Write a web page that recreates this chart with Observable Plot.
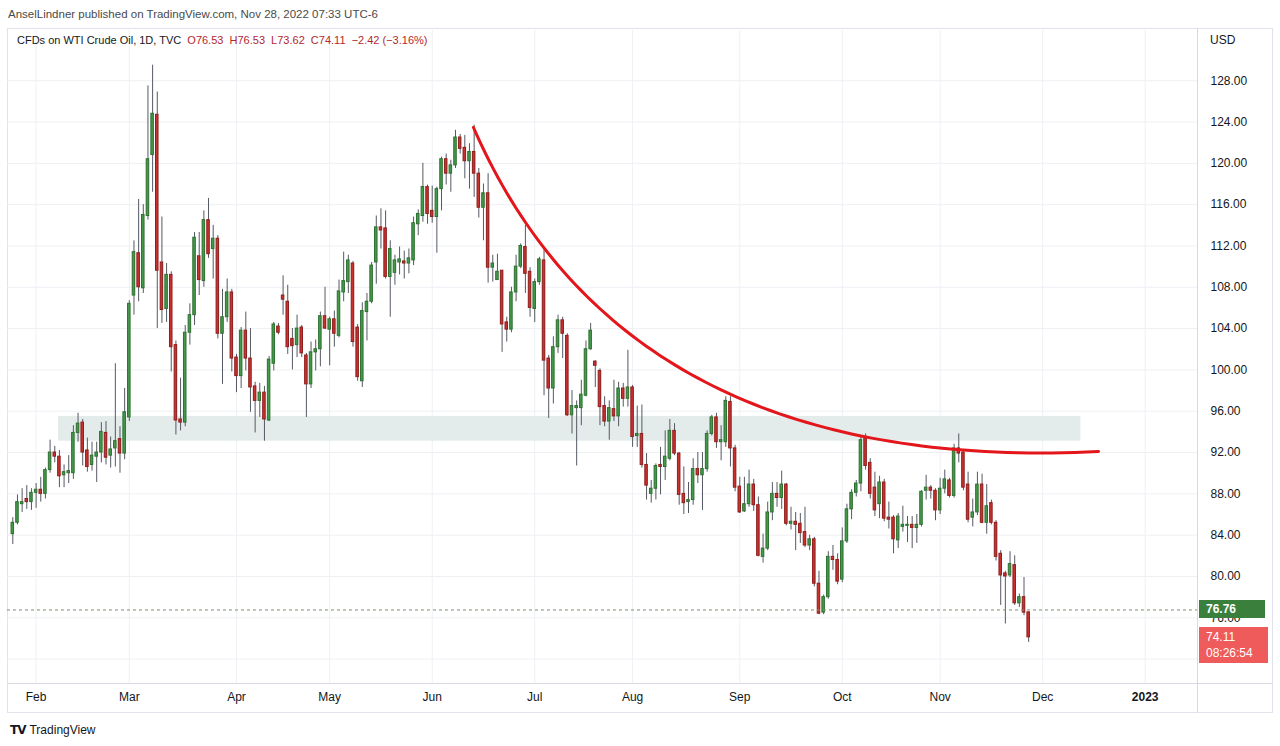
<!DOCTYPE html>
<html><head><meta charset="utf-8">
<script src="https://cdn.jsdelivr.net/npm/d3@7"></script>
<script src="https://cdn.jsdelivr.net/npm/@observablehq/plot@0.6"></script>
<style>
body{margin:0;background:#fff;width:1280px;height:746px;overflow:hidden;position:relative;font-family:"Liberation Sans",Arial,sans-serif;}
#pub{position:absolute;left:8px;top:8px;font-size:11.5px;color:#4a4a4a;white-space:nowrap}
#frame{position:absolute;left:7px;top:28px;width:1266px;height:685px;border:1px solid #e0e3eb;box-sizing:border-box}
#xline{position:absolute;left:7px;top:683px;width:1266px;height:1px;background:#d6d9e0}
#yline{position:absolute;left:1197px;top:28px;width:1px;height:685px;background:#d6d9e0}
#legend{position:absolute;left:17px;top:34px;font-size:11px;color:#131722;white-space:nowrap}
#legend .v{color:#b2282e}
#chart{position:absolute;left:7px;top:28px}
#usd{position:absolute;left:1210px;top:33px;font-size:12px;color:#131722}
#logo{position:absolute;left:10px;top:723px;font-size:12px;color:#131722;white-space:nowrap}
#logo b{font-family:"DejaVu Sans";font-weight:900;font-size:12px;letter-spacing:-1px;margin-right:4px}
.lbl{position:absolute;color:#fff;font-size:12px;box-sizing:border-box;padding-left:7px}
</style></head>
<body>
<div id="pub">AnselLindner published on TradingView.com, Nov 28, 2022 07:33 UTC-6</div>
<div id="frame"></div>
<div id="chart"></div>
<div id="xline"></div>
<div id="yline"></div>
<div id="legend">CFDs on WTI Crude Oil, 1D, TVC&nbsp;&nbsp;<span class="v">O76.53&nbsp;&nbsp;H76.53&nbsp;&nbsp;L73.62&nbsp;&nbsp;C74.11&nbsp;&nbsp;−2.42 (−3.16%)</span></div>
<div id="usd">USD</div>
<div id="logo"><b>TV</b>TradingView</div>
<script>
// ---- data ----
const open = [84.1,85.2,87.0,87.5,87.2,88.1,88.4,88.0,90.3,92.0,91.6,89.8,90.0,90.0,93.9,94.9,92.2,90.8,91.6,92.0,93.9,91.7,92.4,93.3,91.9,95.4,
107.2,111.3,107.9,114.9,120.8,124.7,110.4,105.9,109.2,102.4,95.2,94.9,103.6,105.3,111.0,108.6,114.5,111.7,112.7,103.5,105.1,107.5,
101.2,99.4,103.8,101.1,98.4,97.0,97.8,95.1,100.6,104.2,107.2,106.6,103.0,102.4,104.1,101.4,98.6,101.7,102.0,105.2,
103.9,104.9,103.3,107.5,108.5,110.3,104.1,98.9,105.6,106.6,110.4,113.8,113.7,109.0,109.4,110.4,110.5,110.3,110.6,114.1,114.9,117.7,
115.4,114.8,117.5,120.4,119.0,119.8,122.5,121.5,120.2,121.1,119.0,115.7,117.1,109.9,108.7,109.6,104.6,103.9,107.5,110.0,111.9,109.5,
105.9,108.5,110.6,101.1,98.2,102.2,104.8,103.3,95.6,96.3,96.3,97.5,102.0,100.8,99.9,96.5,95.0,96.2,95.5,98.2,97.2,
98.3,93.6,93.8,90.8,88.0,88.5,90.8,90.6,91.4,94.1,91.9,88.0,87.2,87.4,90.4,89.8,90.4,93.8,95.4,93.0,93.0,96.9,92.4,
88.7,86.3,87.0,88.9,86.9,81.9,82.7,86.2,88.0,87.6,88.9,85.1,85.3,85.1,84.3,83.0,83.6,79.3,76.5,78.0,81.9,81.6,
79.7,83.4,86.5,88.1,89.0,93.5,91.0,88.6,87.0,89.1,85.7,85.7,83.5,84.8,84.9,85.0,84.7,85.0,88.3,88.6,88.3,
86.4,88.5,89.3,87.8,92.4,92.0,88.9,85.7,86.2,88.9,85.2,87.1,85.2,82.2,80.3,80.1,81.1,77.4,78.0,76.53];
const high = [85.7,87.9,88.5,88.8,88.5,89.0,89.6,90.5,93.2,92.6,92.2,90.8,91.7,94.6,95.8,95.2,93.4,93.0,93.0,94.9,95.0,93.5,100.6,94.5,98.2,106.7,
112.5,116.5,116.0,127.5,129.5,126.9,114.8,110.3,109.5,102.8,99.2,104.3,106.4,113.3,113.3,115.4,116.6,114.0,113.0,107.8,108.8,107.8,
101.5,104.1,105.6,104.0,98.8,98.7,98.4,101.3,104.6,104.5,109.1,108.2,104.0,105.3,104.3,101.6,102.7,102.9,105.6,108.0,
105.1,105.7,108.7,111.4,111.1,110.5,104.4,106.5,107.4,110.4,114.9,115.6,115.4,112.5,111.1,111.9,111.5,111.7,114.8,115.5,120.0,117.9,
117.8,117.7,120.6,120.9,120.3,123.2,122.8,122.7,121.9,123.7,119.5,118.0,119.0,111.1,111.2,109.6,105.1,108.0,111.1,112.2,114.0,109.9,
108.8,110.9,111.6,101.4,103.2,105.3,105.1,103.5,98.0,97.0,99.0,102.8,104.5,100.9,100.1,97.4,97.0,99.0,98.8,98.7,101.9,
98.5,96.5,96.6,91.9,89.3,90.9,92.5,94.1,95.2,94.8,92.0,90.6,89.1,91.4,92.0,92.0,94.1,95.6,95.8,94.6,97.4,97.4,92.7,
89.6,89.6,90.3,89.4,87.7,84.1,87.2,89.1,89.1,90.2,89.0,86.7,86.2,86.1,86.7,84.0,83.8,80.5,78.2,82.4,83.0,82.2,
84.7,87.0,88.4,89.3,93.5,93.8,91.4,90.1,89.7,89.4,87.2,85.9,86.1,86.8,85.8,85.8,86.0,88.3,89.8,88.8,88.5,
89.5,90.3,89.5,92.8,93.8,92.2,90.1,87.5,90.1,89.9,88.9,87.4,85.4,82.5,80.5,82.4,82.0,78.3,79.9,76.53];
const low = [83.1,85.0,86.2,86.5,86.4,86.6,87.2,87.5,90.0,91.0,88.6,88.6,89.0,89.4,93.0,90.7,90.1,90.2,89.1,91.0,90.8,90.5,90.6,90.0,91.3,95.0,
105.3,106.6,107.4,114.5,117.2,104.0,104.5,104.6,99.8,93.7,94.1,94.5,102.4,104.3,107.2,108.0,110.8,108.8,103.0,98.6,104.6,99.8,
97.8,98.2,99.9,95.9,93.9,95.4,93.1,95.0,99.9,103.4,105.3,101.5,100.0,101.2,101.2,95.4,98.2,99.9,100.3,103.9,
100.4,102.2,103.1,106.6,107.4,102.2,98.9,98.3,102.8,106.4,108.3,111.7,108.8,105.1,108.2,109.2,108.8,109.3,110.1,113.0,114.3,114.1,
114.2,111.3,115.4,117.9,117.2,119.5,120.9,118.5,117.5,116.7,114.7,112.5,108.4,108.5,108.7,101.7,102.7,103.6,106.6,109.8,107.4,105.1,
104.6,108.2,97.5,95.3,96.7,101.6,101.1,95.5,93.8,90.7,94.6,97.4,101.9,98.3,94.6,94.5,93.2,95.0,94.5,96.4,96.4,
92.5,92.5,90.5,87.4,87.1,87.4,87.9,89.3,91.2,91.7,86.9,86.0,86.1,86.9,89.0,86.4,90.1,93.6,92.4,91.2,92.5,90.6,88.2,
86.1,86.2,86.7,86.3,81.9,81.3,82.5,85.4,86.7,86.5,84.9,84.5,82.5,83.2,82.8,82.5,79.0,76.3,76.3,77.8,80.6,79.2,
79.4,83.2,85.5,87.7,88.2,90.3,87.5,85.8,85.6,85.3,84.6,82.2,82.7,84.3,83.3,82.7,83.2,84.8,87.4,87.5,85.4,
86.0,88.0,87.6,87.6,91.0,88.3,85.2,84.8,85.9,85.1,84.1,85.0,81.5,77.2,75.4,79.9,77.2,77.0,76.2,73.62];
const close = [85.2,87.2,87.2,87.2,88.1,88.4,88.0,90.3,92.0,91.6,89.7,90.1,90.2,93.9,94.8,92.0,90.6,91.7,92.0,94.0,91.5,92.3,93.1,91.9,95.9,106.4,
111.4,108.0,115.0,120.4,124.8,109.6,105.8,109.2,102.2,95.1,94.9,103.6,105.3,112.8,108.7,114.5,111.2,112.7,103.5,105.1,107.5,101.1,
99.4,103.8,101.1,98.3,97.0,97.8,95.2,101.0,104.4,103.6,106.8,102.2,102.3,104.0,101.6,98.6,101.7,102.0,105.2,104.0,
104.9,103.5,107.6,108.6,110.6,102.7,99.3,105.7,106.6,110.1,113.8,113.5,109.0,111.7,110.6,110.7,110.3,110.8,114.2,115.1,117.7,115.1,
114.8,117.5,120.4,119.0,119.8,122.5,121.4,120.2,121.1,119.0,115.7,117.1,109.9,110.3,109.5,104.4,103.9,107.5,110.0,112.0,109.3,106.0,
108.5,110.7,100.9,98.2,102.2,104.8,103.5,95.6,96.5,96.5,97.6,102.0,103.8,100.4,96.4,95.0,96.3,95.5,98.2,97.2,98.3,
93.5,93.8,90.8,88.8,88.5,90.7,90.6,91.6,94.1,91.9,87.9,87.1,87.4,90.4,89.8,90.4,93.8,95.4,93.0,93.2,97.0,92.4,88.6,
86.2,87.0,88.9,86.9,82.0,82.7,86.2,88.0,87.6,88.9,85.1,85.3,85.0,84.2,83.0,83.6,79.3,76.4,78.0,81.9,81.6,79.5,
83.4,86.5,88.1,89.0,93.2,90.7,88.0,86.4,89.1,85.6,85.5,83.6,85.8,85.0,85.0,84.7,85.0,88.2,88.6,88.3,86.4,
88.5,89.4,87.8,92.4,91.9,88.6,85.5,86.2,88.9,85.2,86.8,85.2,81.9,80.1,80.0,81.2,77.4,78.0,76.5,74.11];
const startDate = "2022-01-25";          // first candle
const closedDays = ["2022-04-15"];       // no bar on Good Friday
const monthKeys = ["2022-02","2022-03","2022-04","2022-05","2022-06","2022-07","2022-08","2022-09","2022-10","2022-11","2022-12","2023-01"];
const monthLabels = ["Feb","Mar","Apr","May","Jun","Jul","Aug","Sep","Oct","Nov","Dec","2023"];
const priceTicks = [72,76,80,84,88,92,96,100,104,108,112,116,120,124,128];
// support zone (bar index range, price range)
const zoneBars = [9.8, 229.2];
const zonePrices = [93.1, 95.5];
// red curve drawing tool: start, control, end anchors (bar index, price)
const arcBars  = [98.86, 131.27, 232.98];
const arcPrice = [123.47, 89.87, 92.10];
const refLevel = 76.76;
const lastPrice = 74.11;
const countdown = "08:26:54";

// ---- trading-day calendar ----
const days = [];
{ let d = new Date(startDate + "T00:00:00Z");
  while (days.length < 270) {
    const iso = d.toISOString().slice(0,10), wd = d.getUTCDay();
    if (wd !== 0 && wd !== 6 && !closedDays.includes(iso)) days.push(iso);
    d = new Date(d.getTime() + 86400000);
  } }
const tickBars = monthKeys.map(k => days.findIndex(s => s.startsWith(k)));

const candles = close.map((c, i) => ({i, date: days[i], o: open[i], h: high[i], l: low[i], c, up: c >= open[i]}));
// quadratic curve through the three anchors of the drawing tool
const arc = d3.range(0, 1.0001, 1/80).map(t => ({
  b: (1-t)*(1-t)*arcBars[0] + 2*t*(1-t)*arcBars[1] + t*t*arcBars[2],
  p: (1-t)*(1-t)*arcPrice[0] + 2*t*(1-t)*arcPrice[1] + t*t*arcPrice[2]
}));
const zone = [{x1: zoneBars[0], x2: zoneBars[1], y1: zonePrices[0], y2: zonePrices[1]}];

const GREEN = "#46994b", GREEN_D = "#2d7031", RED = "#c8322f", RED_D = "#8f1d1d", WICK = "#555962";

const chart = Plot.plot({
  width: 1265, height: 684,
  marginLeft: 0, marginRight: 75, marginTop: 2, marginBottom: 29,
  style: {fontFamily: '"Liberation Sans", Arial, sans-serif', fontSize: "12px", background: "transparent", color: "#131722"},
  x: {type: "linear", domain: [-1.14, 254.23]},
  y: {domain: [69.64, 132.86]},
  marks: [
    Plot.gridY(priceTicks, {stroke: "#eef0f4", strokeOpacity: 1}),
    Plot.gridX(tickBars, {stroke: "#eef0f4", strokeOpacity: 1}),
    Plot.rect(zone, {x1: "x1", x2: "x2", y1: "y1", y2: "y2", fill: "#e4ebeb"}),
    Plot.ruleX(candles, {x: "i", y1: "l", y2: "h", stroke: WICK, strokeWidth: 1}),
    Plot.rect(candles, {x1: d => d.i - 0.27, x2: d => d.i + 0.27,
      y1: d => Math.min(d.o, d.c), y2: d => Math.max(d.o, d.c),
      fill: d => d.up ? GREEN : RED, stroke: d => d.up ? GREEN_D : RED_D, strokeWidth: 1}),
    Plot.ruleY([refLevel], {stroke: "#7d8f70", strokeDasharray: "3,3", strokeWidth: 1}),
    Plot.line(arc, {x: "b", y: "p", stroke: "#e3161b", strokeWidth: 3, curve: "linear"}),
    Plot.axisY(priceTicks, {anchor: "right", tickSize: 0, tickPadding: 13, tickFormat: d => d.toFixed(2), fill: "#131722"}),
    Plot.axisX(tickBars, {anchor: "bottom", tickSize: 0, tickPadding: 9, tickFormat: d => monthLabels[tickBars.indexOf(d)], fill: "#131722"})
  ]
});
document.getElementById("chart").appendChild(chart);
d3.select(chart).selectAll("text").filter(function(){ return this.textContent === "2023"; }).attr("font-weight", "bold");

// price labels on the axis, placed with the chart's own y scale
const ys = chart.scale("y");
const top0 = 28;
const g = document.createElement("div");
g.className = "lbl"; g.style.left = "1199px"; g.style.width = "66px"; g.style.height = "18px";
g.style.top = (top0 + ys.apply(refLevel) - 9) + "px"; g.style.lineHeight = "18px";
g.style.background = "#3a7f3b"; g.style.fontWeight = "bold"; g.textContent = refLevel.toFixed(2);
document.body.appendChild(g);
const r = document.createElement("div");
r.className = "lbl"; r.style.left = "1199px"; r.style.width = "69px"; r.style.height = "36px";
r.style.top = (top0 + ys.apply(lastPrice) - 10) + "px"; r.style.lineHeight = "16px"; r.style.paddingTop = "2px";
r.style.background = "#ef5a5a"; r.innerHTML = lastPrice.toFixed(2) + "<br>" + countdown;
document.body.appendChild(r);
</script>
</body></html>
